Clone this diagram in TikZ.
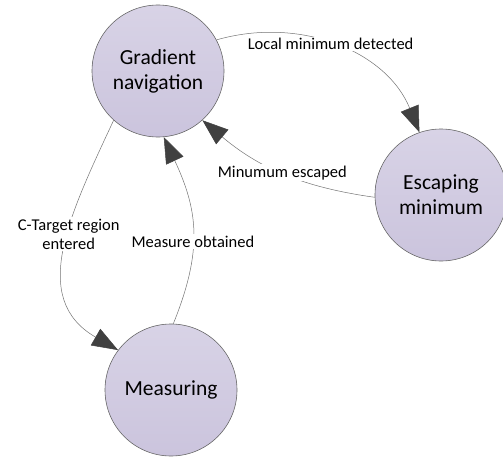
\documentclass[tikz,border=0pt]{standalone}
\usepackage{fontspec}
\setmainfont{Carlito}
\usetikzlibrary{arrows.meta}
\definecolor{statefill}{RGB}{203,196,221}
\definecolor{statetop}{RGB}{216,211,230}
\definecolor{tipgray}{RGB}{64,64,64}

\begin{document}
\begin{tikzpicture}[x=1pt,y=1pt,
  state/.style={circle,draw=gray!80!black,line width=0.6pt,top color=statetop,bottom color=statefill,
    minimum size=132pt,inner sep=0pt,align=center,font=\fontsize{21.5}{25}\selectfont},
  trans/.style={draw=gray!90!black,line width=0.5pt,
    -{Triangle[length=26pt,width=19pt,color=tipgray]}},
  lbl/.style={fill=white,inner sep=1.5pt,align=center,font=\fontsize{16.5}{19}\selectfont}]

  \useasboundingbox (0,0) rectangle (503,-460);

  % States
  \node[state] (grad) at (158,-71) {Gradient\\navigation};
  \node[state] (esc) at (441,-195) {Escaping\\minimum};
  \node[state] (meas) at (171,-390) {Measuring};

  % Transitions
  \draw[trans] (grad.28) to[out=16,in=112] node[lbl,pos=0.47] {Local minimum detected} (esc.109);
  \draw[trans] (esc.182) to[out=172,in=-40] node[lbl,pos=0.5] {Minumum escaped} (grad.-48);
  \draw[trans] (grad.-132) to[out=-115,in=150,looseness=1.15] node[lbl,pos=0.43] {C-Target region\\entered} (meas.143);
  \draw[trans] (meas.88) to[out=68,in=-65,looseness=1.1] node[lbl,pos=0.43] {Measure obtained} (grad.-85);

\end{tikzpicture}
\end{document}
